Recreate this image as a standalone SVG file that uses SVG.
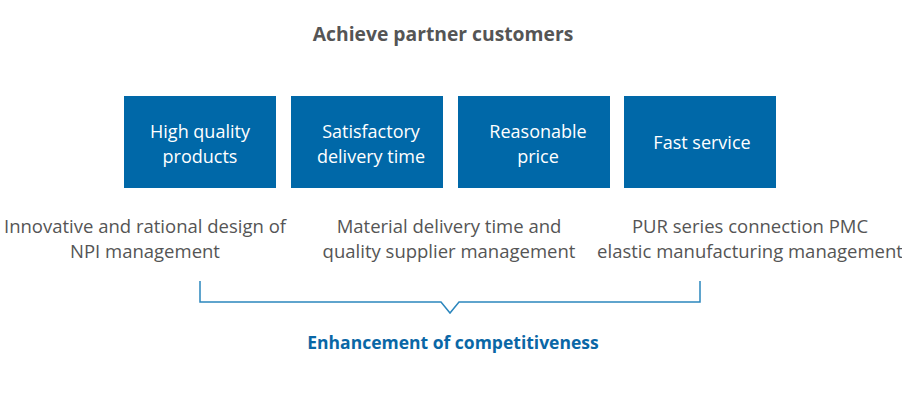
<svg xmlns="http://www.w3.org/2000/svg" width="902" height="401" viewBox="0 0 902 401">
<style>
.box{fill:#0068a8;}
.bt{font-family:"Open Sans","Noto Sans",sans-serif;font-size:18px;fill:#ffffff;text-anchor:middle;}
.dt{font-family:"Open Sans","Noto Sans",sans-serif;font-size:18.5px;fill:#555555;text-anchor:middle;}
.title{font-family:"Open Sans","Noto Sans",sans-serif;font-size:19.3px;font-weight:bold;fill:#555555;text-anchor:middle;}
.sub{font-family:"Open Sans","Noto Sans",sans-serif;font-size:17.5px;font-weight:bold;fill:#0a67a6;text-anchor:middle;}
.br{fill:none;stroke:#2b86bd;stroke-width:1.5;}
</style>
<rect width="902" height="401" fill="#ffffff"/>
<text class="title" x="443" y="41">Achieve partner customers</text>
<g id="n1"><rect class="box" x="124" y="96" width="152" height="92"/><text class="bt" x="200" y="138">High quality</text><text class="bt" x="200" y="163">products</text></g>
<g id="n2"><rect class="box" x="291" y="96" width="152" height="92"/><text class="bt" x="371" y="138">Satisfactory</text><text class="bt" x="371" y="163">delivery time</text></g>
<g id="n3"><rect class="box" x="458" y="96" width="152" height="92"/><text class="bt" x="538" y="138">Reasonable</text><text class="bt" x="538" y="163">price</text></g>
<g id="n4"><rect class="box" x="624" y="96" width="152" height="92"/><text class="bt" x="702" y="149">Fast service</text></g>
<g id="d1"><text class="dt" x="145" y="233">Innovative and rational design of</text><text class="dt" x="145" y="258">NPI management</text></g>
<g id="d2"><text class="dt" x="449" y="233">Material delivery time and</text><text class="dt" x="449" y="258">quality supplier management</text></g>
<g id="d3"><text class="dt" x="750" y="233">PUR series connection PMC</text><text class="dt" x="750" y="258">elastic manufacturing management</text></g>
<g id="connectors"><path class="br" d="M200 281 V302 H441 L450 313 L459 302 H700 V281"/></g>
<text class="sub" x="453" y="349">Enhancement of competitiveness</text>
</svg>
